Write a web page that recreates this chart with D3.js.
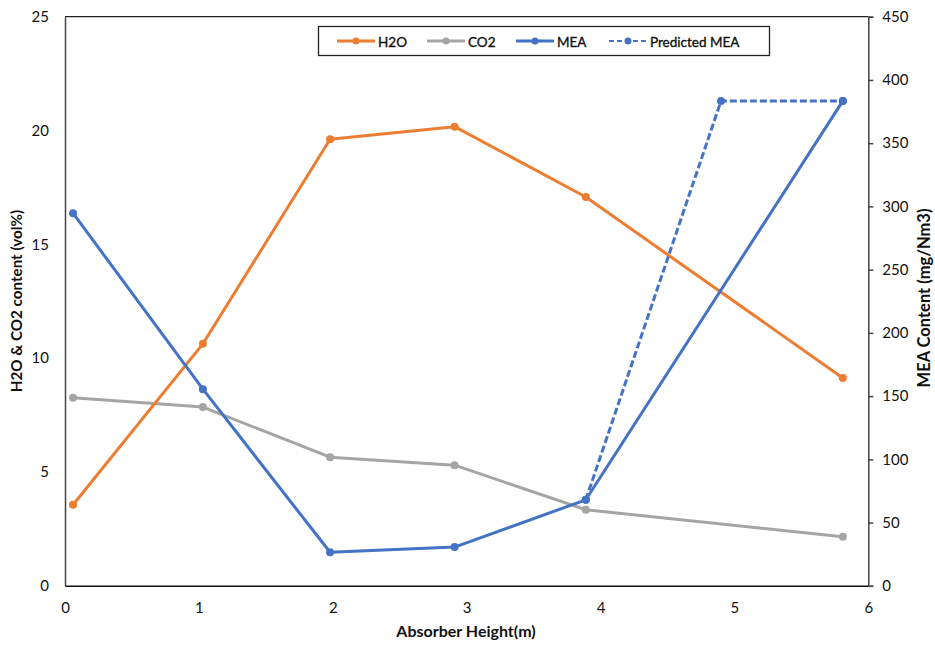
<!DOCTYPE html>
<html>
<head>
<meta charset="utf-8">
<script src="https://cdn.jsdelivr.net/npm/d3@7"></script>
<style>
  body { margin: 0; background: #fff; }
  text { font-family: Lato, "Open Sans", sans-serif; }
</style>
</head>
<body>
<div id="chart"></div>
<script>
// data
let heights = [0.06, 1.03, 1.98, 2.91, 3.89, 5.81];
let h2o = [3.56, 10.63, 19.62, 20.17, 17.08, 9.13];
let co2 = [8.26, 7.85, 5.65, 5.30, 3.34, 2.15];
let mea = [294.6, 155.5, 26.5, 30.6, 68, 383.4];
let predX = [3.89, 4.9, 5.81];
let predMea = [68, 383.4, 383.4];
let leftTicks = [0, 5, 10, 15, 20, 25];
let rightTicks = [0, 50, 100, 150, 200, 250, 300, 350, 400, 450];
let xTicks = [0, 1, 2, 3, 4, 5, 6];

let margin = {top: 16.7, right: 67, left: 65, bottom: 60};
let width = 935, height = 646;
let svg = d3.select("#chart").append("svg").attr("width", width).attr("height", height);

let xScale = d3.scaleLinear().domain([0, 6]).range([margin.left, 868.3]);
let yLeft = d3.scaleLinear().domain([0, 25]).range([585.8, margin.top]);
let yRight = d3.scaleLinear().domain([0, 450]).range([585.8, margin.top]);

// frame: top line + left axis + bottom axis + right axis
svg.append("line").attr("x1", xScale(0)).attr("x2", xScale(6)).attr("y1", yLeft(25)).attr("y2", yLeft(25))
  .attr("stroke", "#222").attr("stroke-width", 1.3);

let xAxis = d3.axisBottom(xScale).tickValues(xTicks).tickSize(0).tickPadding(17).tickFormat(d3.format("d"));
let gx = svg.append("g").attr("transform", "translate(0," + yLeft(0) + ")").call(xAxis);
let yAxisL = d3.axisLeft(yLeft).tickValues(leftTicks).tickSize(0).tickPadding(16);
let gl = svg.append("g").attr("transform", "translate(" + xScale(0) + ",0)").call(yAxisL);
let yAxisR = d3.axisRight(yRight).tickValues(rightTicks).tickSize(5).tickPadding(9);
let gr = svg.append("g").attr("transform", "translate(" + xScale(6) + ",0)").call(yAxisR);

[gx, gl, gr].forEach(g => {
  g.select(".domain").attr("stroke", "#444").attr("stroke-width", 1.5);
  g.selectAll(".tick line").attr("stroke", "#444").attr("stroke-width", 1.5);
  g.selectAll("text").attr("font-size", 15).attr("fill", "#111").attr("font-family", "Lato, sans-serif");
});
gx.select(".domain").attr("stroke", "#111");

// axis titles
svg.append("text").attr("transform", "translate(22,301) rotate(-90)").attr("text-anchor", "middle")
  .attr("font-size", 15.2).attr("font-weight", "bold").attr("fill", "#111").text("H2O & CO2 content (vol%)");
svg.append("text").attr("transform", "translate(930,298) rotate(-90)").attr("text-anchor", "middle")
  .attr("font-size", 16.5).attr("font-weight", "bold").attr("fill", "#111").text("MEA Content (mg/Nm3)");
svg.append("text").attr("x", 466).attr("y", 637).attr("text-anchor", "middle")
  .attr("font-size", 16).attr("font-weight", "bold").attr("fill", "#111").text("Absorber Height(m)");

function drawSeries(xs, ys, yScale, color, dash) {
  let pts = xs.map((x, i) => [xScale(x), yScale(ys[i])]);
  svg.append("path").attr("d", d3.line()(pts)).attr("fill", "none").attr("stroke", color)
    .attr("stroke-width", 3).attr("stroke-linejoin", "round").attr("stroke-dasharray", dash || null);
  svg.append("g").selectAll("circle").data(pts).enter().append("circle")
    .attr("cx", d => d[0]).attr("cy", d => d[1]).attr("r", 4).attr("fill", color);
}

drawSeries(heights, co2, yLeft, "#A5A5A5");
drawSeries(heights, h2o, yLeft, "#ED7D31");
drawSeries(predX, predMea, yRight, "#4472C4", "7,3");
drawSeries(heights, mea, yRight, "#4472C4");

// legend
let legend = svg.append("g");
legend.append("rect").attr("x", 318.5).attr("y", 26.5).attr("width", 451).attr("height", 29)
  .attr("fill", "#fff").attr("stroke", "#222").attr("stroke-width", 1.3);
let legendItems = [
  {name: "H2O", color: "#ED7D31", x: 337},
  {name: "CO2", color: "#A5A5A5", x: 427},
  {name: "MEA", color: "#4472C4", x: 516},
  {name: "Predicted MEA", color: "#4472C4", x: 609, dash: "5,3"}
];
legendItems.forEach(d => {
  legend.append("line").attr("x1", d.x).attr("x2", d.x + 38).attr("y1", 41).attr("y2", 41)
    .attr("stroke", d.color).attr("stroke-width", d.dash ? 2 : 3).attr("stroke-dasharray", d.dash || null);
  legend.append("circle").attr("cx", d.x + 19).attr("cy", 41).attr("r", 3.5).attr("fill", d.color);
  legend.append("text").attr("x", d.x + 41).attr("y", 46.5).attr("font-size", 13.5)
    .attr("fill", "#111").attr("stroke", "#111").attr("stroke-width", 0.35).text(d.name);
});
</script>
</body>
</html>
